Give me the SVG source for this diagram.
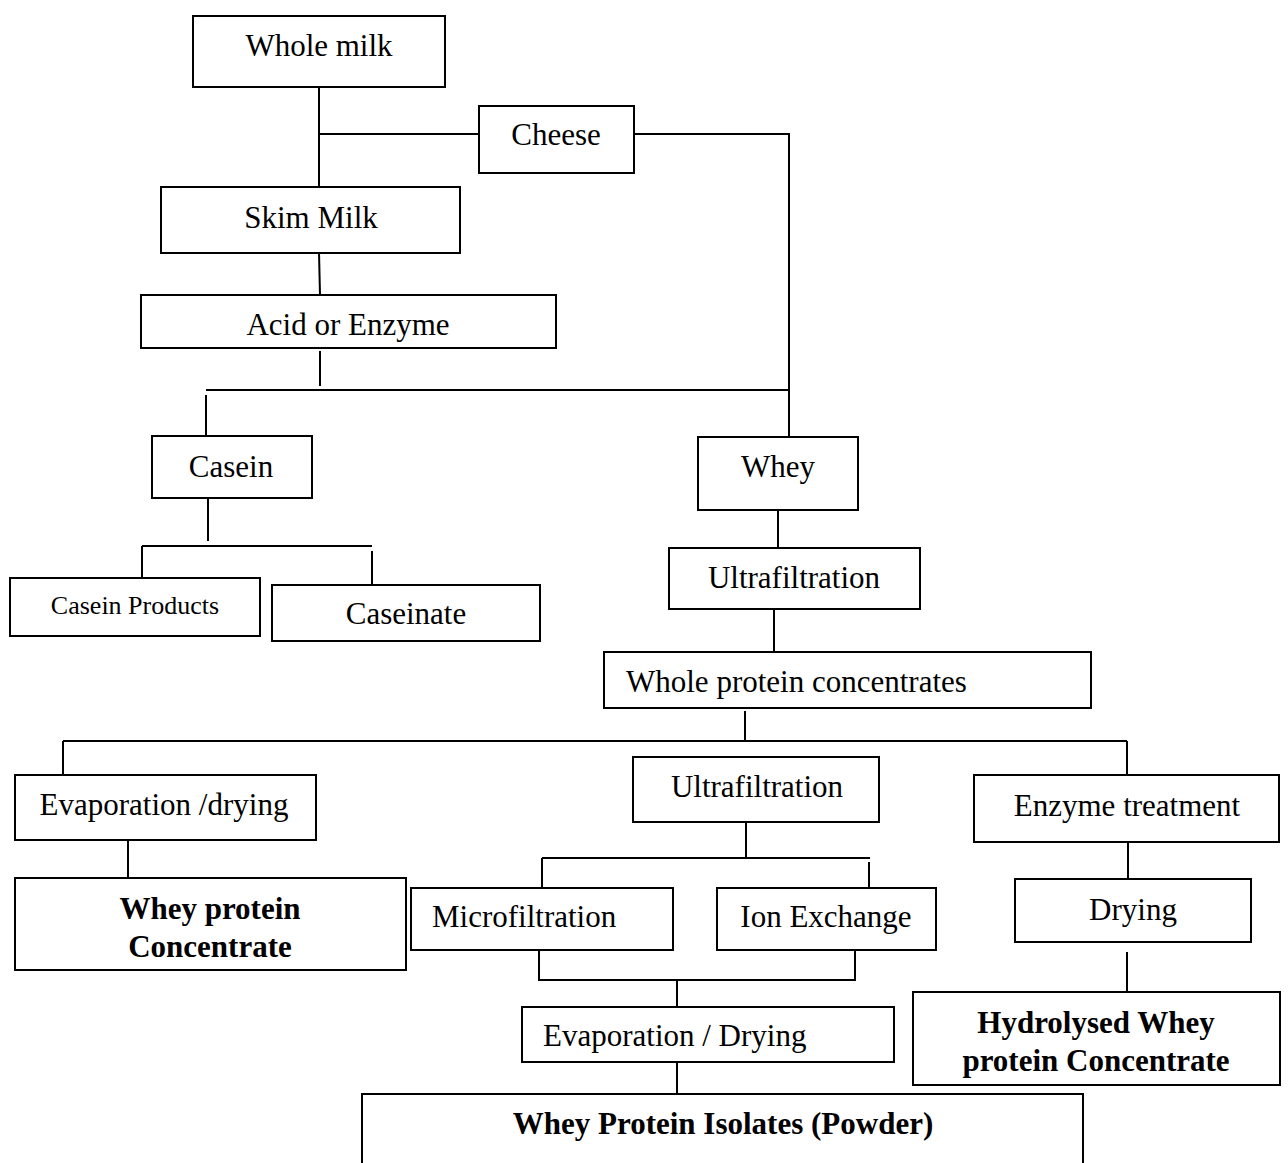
<svg xmlns="http://www.w3.org/2000/svg" width="1288" height="1163" viewBox="0 0 1288 1163">
<style>
.n rect{fill:#fff;stroke:#000;stroke-width:2}
.c line,.c polyline{stroke:#000;stroke-width:2;fill:none}
text{font-family:"Liberation Serif","Times New Roman",serif;font-size:31px;fill:#000}
.m{text-anchor:middle}
.b{font-weight:bold}
.s{font-size:26px}
</style>
<rect width="1288" height="1163" fill="#fff"/>
<g class="c" id="connectors">
<line x1="319" y1="87" x2="319" y2="186"/>
<line x1="319" y1="134" x2="479" y2="134"/>
<polyline points="634,134 789,134 789,437"/>
<line x1="319" y1="252" x2="320" y2="295"/>
<line x1="320" y1="351" x2="320" y2="386"/>
<line x1="206" y1="390" x2="789" y2="390"/>
<line x1="206" y1="395" x2="206" y2="436"/>
<line x1="208" y1="498" x2="208" y2="541"/>
<line x1="142" y1="546" x2="372" y2="546"/>
<line x1="142" y1="546" x2="142" y2="578"/>
<line x1="372" y1="551" x2="372" y2="585"/>
<line x1="778" y1="505" x2="778" y2="548"/>
<line x1="774" y1="609" x2="774" y2="652"/>
<line x1="745" y1="711" x2="745" y2="741"/>
<line x1="63" y1="741" x2="1127" y2="741"/>
<line x1="63" y1="741" x2="63" y2="775"/>
<line x1="1127" y1="741" x2="1127" y2="775"/>
<line x1="128" y1="840" x2="128" y2="878"/>
<line x1="746" y1="822" x2="746" y2="858"/>
<line x1="542" y1="858" x2="870" y2="858"/>
<line x1="542" y1="858" x2="542" y2="888"/>
<line x1="869" y1="862" x2="869" y2="888"/>
<polyline points="539,950 539,980 855,980 855,950"/>
<line x1="677" y1="980" x2="677" y2="1007"/>
<line x1="677" y1="1062" x2="677" y2="1094"/>
<line x1="1128" y1="842" x2="1128" y2="879"/>
<line x1="1127" y1="952" x2="1127" y2="992"/>
</g>
<g class="n" id="whole-milk"><rect x="193" y="16" width="252" height="71"/><text class="m" x="319" y="56">Whole milk</text></g>
<g class="n" id="cheese"><rect x="479" y="106" width="155" height="67"/><text class="m" x="556" y="145">Cheese</text></g>
<g class="n" id="skim-milk"><rect x="161" y="187" width="299" height="66"/><text class="m" x="311" y="228">Skim Milk</text></g>
<g class="n" id="acid-enzyme"><rect x="141" y="295" width="415" height="53"/><text class="m" x="348" y="335">Acid or Enzyme</text></g>
<g class="n" id="casein"><rect x="152" y="436" width="160" height="62"/><text class="m" x="231" y="477">Casein</text></g>
<g class="n" id="casein-products"><rect x="10" y="578" width="250" height="58"/><text class="m s" x="135" y="614">Casein Products</text></g>
<g class="n" id="caseinate"><rect x="272" y="585" width="268" height="56"/><text class="m" x="406" y="624">Caseinate</text></g>
<g class="n" id="whey"><rect x="698" y="437" width="160" height="73"/><text class="m" x="778" y="477">Whey</text></g>
<g class="n" id="ultrafiltration1"><rect x="669" y="548" width="251" height="61"/><text class="m" x="794" y="588">Ultrafiltration</text></g>
<g class="n" id="whole-protein"><rect x="604" y="652" width="487" height="56"/><text x="626" y="692">Whole protein concentrates</text></g>
<g class="n" id="evap-drying1"><rect x="15" y="775" width="301" height="65"/><text class="m" x="164" y="815">Evaporation /drying</text></g>
<g class="n" id="wpc"><rect x="15" y="878" width="391" height="92"/><text class="m b" x="210" y="919">Whey protein</text><text class="m b" x="210" y="957">Concentrate</text></g>
<g class="n" id="ultrafiltration2"><rect x="633" y="757" width="246" height="65"/><text class="m" x="757" y="797">Ultrafiltration</text></g>
<g class="n" id="microfiltration"><rect x="411" y="888" width="262" height="62"/><text x="432" y="927">Microfiltration</text></g>
<g class="n" id="ion-exchange"><rect x="717" y="888" width="219" height="62"/><text class="m" x="826" y="927">Ion Exchange</text></g>
<g class="n" id="evap-drying2"><rect x="522" y="1007" width="372" height="55"/><text x="543" y="1046">Evaporation / Drying</text></g>
<g class="n" id="wpi"><rect x="362" y="1094" width="721" height="80"/><text class="m b" x="723" y="1134">Whey Protein Isolates (Powder)</text></g>
<g class="n" id="enzyme-treatment"><rect x="974" y="775" width="305" height="67"/><text class="m" x="1127" y="816">Enzyme treatment</text></g>
<g class="n" id="drying"><rect x="1015" y="879" width="236" height="63"/><text class="m" x="1133" y="920">Drying</text></g>
<g class="n" id="hwpc"><rect x="913" y="992" width="367" height="93"/><text class="m b" x="1096" y="1033">Hydrolysed Whey</text><text class="m b" x="1096" y="1071">protein Concentrate</text></g>
</svg>
